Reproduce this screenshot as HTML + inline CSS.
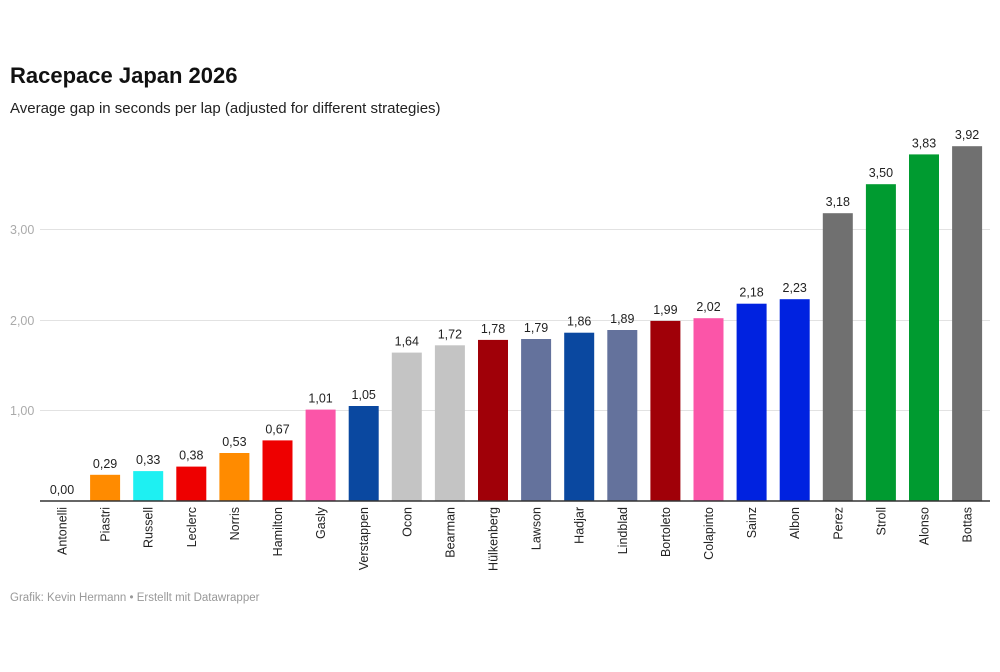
<!DOCTYPE html>
<html><head><meta charset="utf-8"><style>
body{margin:0;background:#fff;font-family:"Liberation Sans",sans-serif;}
</style></head><body>
<svg width="1000" height="667" xmlns="http://www.w3.org/2000/svg" font-family="Liberation Sans, sans-serif">
<text x="10" y="83" font-size="22" font-weight="bold" fill="#111">Racepace Japan 2026</text>
<text x="10" y="113" font-size="15" fill="#222">Average gap in seconds per lap (adjusted for different strategies)</text>
<g stroke="#e2e2e2" stroke-width="1">
<line x1="40" y1="229.5" x2="990" y2="229.5"/>
<line x1="40" y1="320.5" x2="990" y2="320.5"/>
<line x1="40" y1="410.5" x2="990" y2="410.5"/>
</g>
<g font-size="12.5" fill="#aaa">
<text x="10" y="234">3,00</text>
<text x="10" y="325">2,00</text>
<text x="10" y="415">1,00</text>
</g>
<g font-size="12.5" fill="#222">
<g transform="translate(47,0)"><text x="15" y="494" text-anchor="middle">0,00</text><text transform="translate(19.5,507) rotate(-90)" text-anchor="end">Antonelli</text></g>
<g transform="translate(90.1,0)"><rect y="474.8" width="30" height="26.2" fill="#ff8b00"/><text x="15" y="467.8" text-anchor="middle">0,29</text><text transform="translate(19.5,507) rotate(-90)" text-anchor="end">Piastri</text></g>
<g transform="translate(133.2,0)"><rect y="471.1" width="30" height="29.9" fill="#1ef0f2"/><text x="15" y="464.1" text-anchor="middle">0,33</text><text transform="translate(19.5,507) rotate(-90)" text-anchor="end">Russell</text></g>
<g transform="translate(176.3,0)"><rect y="466.6" width="30" height="34.4" fill="#ee0000"/><text x="15" y="459.6" text-anchor="middle">0,38</text><text transform="translate(19.5,507) rotate(-90)" text-anchor="end">Leclerc</text></g>
<g transform="translate(219.4,0)"><rect y="453" width="30" height="48" fill="#ff8b00"/><text x="15" y="446" text-anchor="middle">0,53</text><text transform="translate(19.5,507) rotate(-90)" text-anchor="end">Norris</text></g>
<g transform="translate(262.5,0)"><rect y="440.4" width="30" height="60.6" fill="#ee0000"/><text x="15" y="433.4" text-anchor="middle">0,67</text><text transform="translate(19.5,507) rotate(-90)" text-anchor="end">Hamilton</text></g>
<g transform="translate(305.6,0)"><rect y="409.6" width="30" height="91.4" fill="#fb55a8"/><text x="15" y="402.6" text-anchor="middle">1,01</text><text transform="translate(19.5,507) rotate(-90)" text-anchor="end">Gasly</text></g>
<g transform="translate(348.7,0)"><rect y="406" width="30" height="95" fill="#0a48a0"/><text x="15" y="399" text-anchor="middle">1,05</text><text transform="translate(19.5,507) rotate(-90)" text-anchor="end">Verstappen</text></g>
<g transform="translate(391.8,0)"><rect y="352.6" width="30" height="148.4" fill="#c4c4c4"/><text x="15" y="345.6" text-anchor="middle">1,64</text><text transform="translate(19.5,507) rotate(-90)" text-anchor="end">Ocon</text></g>
<g transform="translate(434.9,0)"><rect y="345.3" width="30" height="155.7" fill="#c4c4c4"/><text x="15" y="338.3" text-anchor="middle">1,72</text><text transform="translate(19.5,507) rotate(-90)" text-anchor="end">Bearman</text></g>
<g transform="translate(478,0)"><rect y="339.9" width="30" height="161.1" fill="#a00008"/><text x="15" y="332.9" text-anchor="middle">1,78</text><text transform="translate(19.5,507) rotate(-90)" text-anchor="end">Hülkenberg</text></g>
<g transform="translate(521.1,0)"><rect y="339" width="30" height="162" fill="#64729c"/><text x="15" y="332" text-anchor="middle">1,79</text><text transform="translate(19.5,507) rotate(-90)" text-anchor="end">Lawson</text></g>
<g transform="translate(564.2,0)"><rect y="332.7" width="30" height="168.3" fill="#0a48a0"/><text x="15" y="325.7" text-anchor="middle">1,86</text><text transform="translate(19.5,507) rotate(-90)" text-anchor="end">Hadjar</text></g>
<g transform="translate(607.3,0)"><rect y="330" width="30" height="171" fill="#64729c"/><text x="15" y="323" text-anchor="middle">1,89</text><text transform="translate(19.5,507) rotate(-90)" text-anchor="end">Lindblad</text></g>
<g transform="translate(650.4,0)"><rect y="320.9" width="30" height="180.1" fill="#a00008"/><text x="15" y="313.9" text-anchor="middle">1,99</text><text transform="translate(19.5,507) rotate(-90)" text-anchor="end">Bortoleto</text></g>
<g transform="translate(693.5,0)"><rect y="318.2" width="30" height="182.8" fill="#fb55a8"/><text x="15" y="311.2" text-anchor="middle">2,02</text><text transform="translate(19.5,507) rotate(-90)" text-anchor="end">Colapinto</text></g>
<g transform="translate(736.6,0)"><rect y="303.7" width="30" height="197.3" fill="#0022e0"/><text x="15" y="296.7" text-anchor="middle">2,18</text><text transform="translate(19.5,507) rotate(-90)" text-anchor="end">Sainz</text></g>
<g transform="translate(779.7,0)"><rect y="299.2" width="30" height="201.8" fill="#0022e0"/><text x="15" y="292.2" text-anchor="middle">2,23</text><text transform="translate(19.5,507) rotate(-90)" text-anchor="end">Albon</text></g>
<g transform="translate(822.8,0)"><rect y="213.2" width="30" height="287.8" fill="#707070"/><text x="15" y="206.2" text-anchor="middle">3,18</text><text transform="translate(19.5,507) rotate(-90)" text-anchor="end">Perez</text></g>
<g transform="translate(865.9,0)"><rect y="184.2" width="30" height="316.8" fill="#009b30"/><text x="15" y="177.2" text-anchor="middle">3,50</text><text transform="translate(19.5,507) rotate(-90)" text-anchor="end">Stroll</text></g>
<g transform="translate(909,0)"><rect y="154.4" width="30" height="346.6" fill="#009b30"/><text x="15" y="147.4" text-anchor="middle">3,83</text><text transform="translate(19.5,507) rotate(-90)" text-anchor="end">Alonso</text></g>
<g transform="translate(952.1,0)"><rect y="146.2" width="30" height="354.8" fill="#707070"/><text x="15" y="139.2" text-anchor="middle">3,92</text><text transform="translate(19.5,507) rotate(-90)" text-anchor="end">Bottas</text></g>
</g>
<line x1="40" y1="501" x2="990" y2="501" stroke="#333" stroke-width="1.5"/>
<text x="10" y="601" font-size="11.5" fill="#999">Grafik: Kevin Hermann • Erstellt mit Datawrapper</text>
</svg>
</body></html>
